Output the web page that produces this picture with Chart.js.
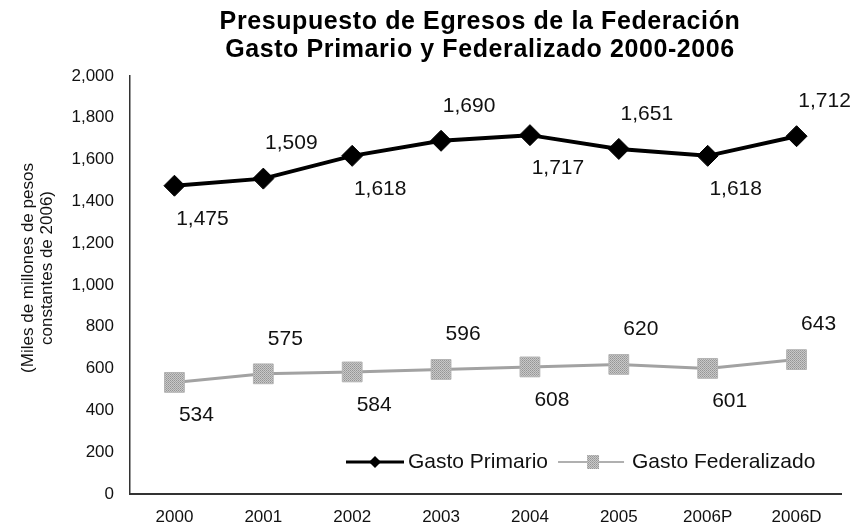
<!DOCTYPE html>
<html>
<head>
<meta charset="utf-8">
<script src="https://cdn.jsdelivr.net/npm/chart.js@4"></script>
<style>
  body { margin: 0; background: #fff; }
  #wrap { width: 856px; height: 528px; position: relative; }
</style>
</head>
<body>
<div id="wrap"><canvas id="chart"></canvas></div>
<script>
const years = ['2000', '2001', '2002', '2003', '2004', '2005', '2006P', '2006D'];
const gastoPrimario = [1475, 1509, 1618, 1690, 1717, 1651, 1618, 1712];
const gastoFederalizado = [534, 575, 584, 596, 608, 620, 601, 643];
const yMin = 0;
const yMax = 2000;
const yStep = 200;
const titleLines = ['Presupuesto de Egresos de la Federación', 'Gasto Primario y Federalizado 2000-2006'];
const yTitleLines = ['(Miles de millones de pesos', 'constantes de 2006)'];

const FONT = '"Liberation Sans", Arial, sans-serif';

// grainy grey fill for the Federalizado squares
function makeGrainPattern() {
    const c = document.createElement('canvas');
    c.width = 2; c.height = 2;
    const g = c.getContext('2d');
    g.fillStyle = '#c8c8c8'; g.fillRect(0, 0, 2, 2);
    g.fillStyle = '#959595'; g.fillRect(0, 0, 1, 1);
    g.fillStyle = '#a4a4a4'; g.fillRect(1, 1, 1, 1);
    return g.createPattern(c, 'repeat');
}
const grain = makeGrainPattern();

// two-line bold title above the plot
const titlePlugin = {
    id: 'titleLines',
    afterDraw(chart) {
        const ctx = chart.ctx;
        ctx.save();
        ctx.fillStyle = '#000';
        ctx.font = 'bold 25px ' + FONT;
        ctx.letterSpacing = '0.6px';
        ctx.textAlign = 'center';
        ctx.textBaseline = 'middle';
        ctx.fillText(titleLines[0], 480, 22);
        ctx.fillText(titleLines[1], 480, 50);
        ctx.restore();
    }
};

// rotated y axis caption
const yTitlePlugin = {
    id: 'yTitle',
    afterDraw(chart) {
        const ctx = chart.ctx;
        ctx.save();
        ctx.translate(37, 268);
        ctx.rotate(-Math.PI / 2);
        ctx.fillStyle = '#111';
        ctx.font = '17px ' + FONT;
        ctx.textAlign = 'center';
        ctx.textBaseline = 'middle';
        ctx.fillText(yTitleLines[0], 0, -9);
        ctx.fillText(yTitleLines[1], 0, 10);
        ctx.restore();
    }
};

// value labels, alternating below / above the points
const valueLabels = {
    id: 'valueLabels',
    afterDatasetsDraw(chart) {
        const ctx = chart.ctx;
        ctx.save();
        ctx.fillStyle = '#111';
        ctx.font = '21px ' + FONT;
        ctx.textAlign = 'center';
        ctx.textBaseline = 'middle';
        chart.data.datasets.forEach((ds, di) => {
            const meta = chart.getDatasetMeta(di);
            const dx = di === 0 ? 28 : 22;
            meta.data.forEach((pt, i) => {
                const dy = i % 2 === 0 ? 33 : -35;
                ctx.fillText(ds.data[i].toLocaleString('en-US'), pt.x + dx, pt.y + dy);
            });
        });
        ctx.restore();
    }
};

// legend sitting inside the plot, bottom right
const insideLegend = {
    id: 'insideLegend',
    afterDraw(chart) {
        const ctx = chart.ctx;
        const area = chart.chartArea;
        const y = area.bottom - 32;
        let x = 346;
        ctx.save();
        ctx.font = '21px ' + FONT;
        ctx.textBaseline = 'middle';

        // Gasto Primario
        ctx.strokeStyle = '#000';
        ctx.lineWidth = 3;
        ctx.beginPath(); ctx.moveTo(x, y); ctx.lineTo(x + 58, y); ctx.stroke();
        ctx.fillStyle = '#000';
        ctx.beginPath();
        ctx.moveTo(x + 29, y - 6); ctx.lineTo(x + 35, y); ctx.lineTo(x + 29, y + 6); ctx.lineTo(x + 23, y);
        ctx.closePath(); ctx.fill();
        x += 62;
        ctx.fillStyle = '#111';
        ctx.fillText(chart.data.datasets[0].label, x, y);
        x += ctx.measureText(chart.data.datasets[0].label).width + 10;

        // Gasto Federalizado
        ctx.strokeStyle = '#b0b0b0';
        ctx.lineWidth = 2;
        ctx.beginPath(); ctx.moveTo(x, y); ctx.lineTo(x + 66, y); ctx.stroke();
        ctx.fillStyle = grain;
        ctx.fillRect(x + 29, y - 7, 12, 14);
        x += 74;
        ctx.fillStyle = '#111';
        ctx.fillText(chart.data.datasets[1].label, x, y);
        ctx.restore();
    }
};

const ctx = document.getElementById('chart').getContext('2d');
const chart = new Chart(ctx, {
    type: 'line',
    data: {
        labels: years,
        datasets: [{
            label: 'Gasto Primario',
            data: gastoPrimario,
            borderColor: '#000',
            borderWidth: 4,
            pointStyle: 'rectRot',
            pointRadius: 10.5,
            pointBackgroundColor: '#000',
            pointBorderColor: '#000',
            pointBorderWidth: 1,
            tension: 0
        }, {
            label: 'Gasto Federalizado',
            data: gastoFederalizado,
            borderColor: '#a2a2a2',
            borderWidth: 3,
            pointStyle: 'rect',
            pointRadius: 14,
            pointBackgroundColor: grain,
            pointBorderColor: '#b4b4b4',
            pointBorderWidth: 1,
            tension: 0
        }]
    },
    options: {
        responsive: true,
        maintainAspectRatio: false,
        animation: false,
        locale: 'en-US',
        layout: { padding: { top: 76, right: 14, left: 0, bottom: 0 } },
        scales: {
            x: {
                offset: true,
                grid: { display: false, drawTicks: false },
                border: { display: true, color: '#333', width: 2 },
                ticks: {
                    color: '#111',
                    font: { family: FONT, size: 17 },
                    padding: 13,
                    maxRotation: 0,
                    minRotation: 0
                },
                afterFit(scale) { scale.height = 34; }
            },
            y: {
                min: yMin,
                max: yMax,
                grid: { display: false, drawTicks: false },
                border: { display: true, color: '#333', width: 1.5 },
                ticks: {
                    stepSize: yStep,
                    color: '#111',
                    font: { family: FONT, size: 17 },
                    padding: 16
                },
                afterFit(scale) { scale.width = 130; }
            }
        },
        plugins: {
            legend: { display: false },
            title: { display: false },
            tooltip: { enabled: false }
        }
    },
    plugins: [titlePlugin, yTitlePlugin, valueLabels, insideLegend]
});
</script>
</body>
</html>
